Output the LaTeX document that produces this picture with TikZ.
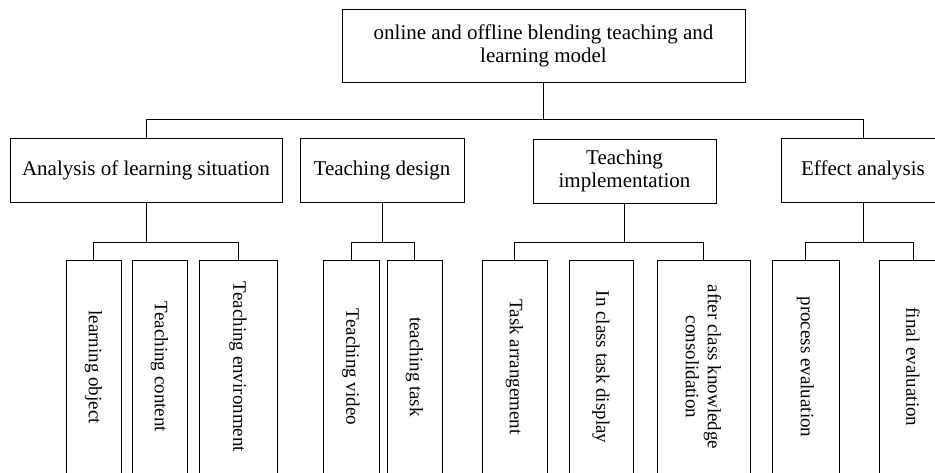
\documentclass[tikz,border=0pt]{standalone}
\usepackage{fontspec}
\setmainfont{Liberation Serif}
\begin{document}
\begin{tikzpicture}[x=1pt,y=1pt,line width=0.9pt,
  topbox/.style={draw,inner sep=0pt,align=center,font=\fontsize{21}{23}\selectfont},
  leafbox/.style={draw,inner sep=0pt,align=center,rotate=-90,minimum width=214pt,font=\fontsize{19}{22}\selectfont}]
\path[use as bounding box] (0,0) rectangle (935,-473);
\clip (0,0) rectangle (935,-473);
% root
\node[topbox,minimum width=403pt,minimum height=73pt] (root) at (543.5,-45.5) {online and offline blending teaching and\\learning model};
% level 2
\node[topbox,minimum width=272pt,minimum height=64pt] (a1) at (146,-170) {Analysis of learning situation};
\node[topbox,minimum width=164pt,minimum height=64pt] (a2) at (382,-170) {Teaching design};
\node[topbox,minimum width=183pt,minimum height=64pt] (a3) at (624.5,-171) {Teaching\\implementation};
\node[topbox,minimum width=164pt,minimum height=64pt] (a4) at (863,-170) {Effect analysis};
% level 3
\node[leafbox,minimum height=55pt] (lo) at (93.5,-367) {learning object};
\node[leafbox,minimum height=55pt] (tc) at (159.5,-367) {Teaching content};
\node[leafbox,minimum height=78pt] (te) at (238,-367) {Teaching environment};
\node[leafbox,minimum height=56pt] (tv) at (351,-367) {Teaching video};
\node[leafbox,minimum height=55pt] (tt) at (414.5,-367) {teaching task};
\node[leafbox,minimum height=65pt] (ta) at (514.5,-367) {Task arrangement};
\node[leafbox,minimum height=64pt] (ic) at (601,-367) {In class task display};
\node[leafbox,minimum height=93pt] (ac) at (703.5,-367) {after class knowledge\\consolidation};
\node[leafbox,minimum height=67pt] (pe) at (805.5,-367) {process evaluation};
\node[leafbox,minimum height=68pt] (fe) at (913,-367) {final evaluation};
% connectors
\draw (root.south) -- ++(0,-38);
\draw (a1.north) -- ++(0,18) -| (a4.north);
\draw (a1.south) -- ++(0,-41);
\draw (lo.west) -- ++(0,17) -| (te.west);
\draw (a2.south) -- ++(0,-41);
\draw (tv.west) -- ++(0,17) -| (tt.west);
\draw (a3.south) -- ++(0,-40);
\draw (ta.west) -- ++(0,17) -| (ac.west);
\draw (a4.south) -- ++(0,-40);
\draw (pe.west) -- ++(0,17) -| (fe.west);
\end{tikzpicture}
\end{document}
